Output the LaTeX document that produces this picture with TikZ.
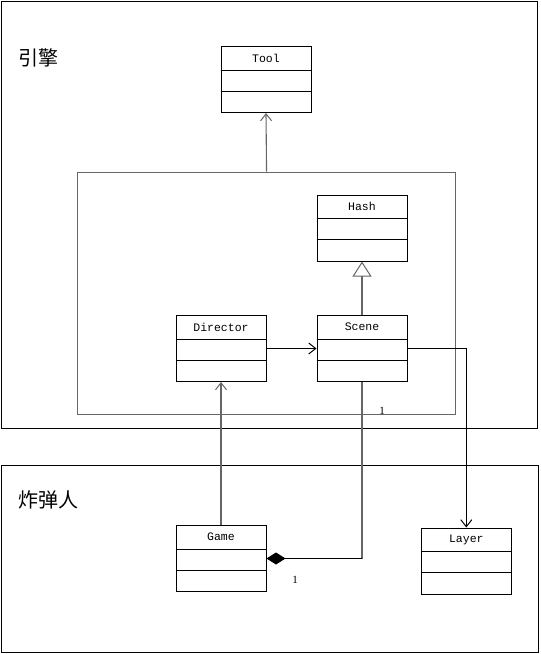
\documentclass[tikz,border=0pt]{standalone}
\usepackage{fontspec}
\setmainfont{Liberation Serif}
\newfontfamily\cjk{Noto Sans CJK SC}
\newfontfamily\umlmono{Liberation Mono}
\usetikzlibrary{arrows.meta,calc}
\tikzset{
  pkg/.style={draw=black, line width=1pt},
  inner/.style={draw=black!60, line width=1.1pt},
  classbox/.style={draw=black, line width=1pt, minimum width=90pt, minimum height=66pt, inner sep=0pt, fill=white},
  cname/.style={font=\umlmono\fontsize{11.5}{13}\selectfont, inner sep=0pt},
  conn/.style={line width=1pt, draw=black},
  gconn/.style={line width=1.1pt, draw=black!60},
  openarrow/.style={-{Straight Barb[length=7pt,width=11pt,line width=1pt]}},
  inherit/.style={-{Triangle[open,length=15pt,width=19pt,line width=1pt]}},
  compose/.style={-{Diamond[length=19pt,width=12pt]}},
  mult/.style={font=\fontsize{11}{13}\selectfont, inner sep=0pt},
  title/.style={font=\cjk\fontsize{20}{24}\selectfont, inner sep=0pt, anchor=west}
}
\newcommand{\umlclass}[4]{% name, cx, top y, label
  \node[classbox, anchor=north] (#1) at (#2,#3) {};
  \node[cname] (#1-label) at ($(#1.north)+(0,12)$) {#4};
  \draw[line width=1pt] ($(#1.north west)+(0,24)$) -- ($(#1.north east)+(0,24)$);
  \draw[line width=1pt] ($(#1.north west)+(0,45)$) -- ($(#1.north east)+(0,45)$);
}
\begin{document}
\begin{tikzpicture}[x=1pt,y=-1pt]
\useasboundingbox (0,0) rectangle (541,654);
% packages
\draw[pkg] (1.5,1.5) rectangle (537.5,428.5);
\draw[pkg] (1.5,465.5) rectangle (538.5,652.5);
\node[title] (engine) at (18,58) {引擎};
\node[title] (bomber) at (18,500) {炸弹人};
% inner box
\node[inner, minimum width=378pt, minimum height=242pt, inner sep=0pt, anchor=north west] (core) at (77,171.5) {};
% classes
\umlclass{tool}{266}{46}{Tool}
\umlclass{hash}{362}{194.5}{Hash}
\umlclass{scene}{362}{315}{Scene}
\umlclass{director}{221}{315}{Director}
\umlclass{game}{221}{525}{Game}
\umlclass{layer}{466.3}{527.5}{Layer}
% connectors
\draw[gconn, openarrow] (core.north) -- (tool.south);
\draw[gconn, inherit] (scene.north) -- (hash.south);
\draw[conn, openarrow] (director.east) -- (scene.west);
\draw[gconn, openarrow] (game.north) -- (director.south);
\draw[conn, openarrow] (scene.east) -| (layer.north);
\coordinate (bend) at (scene.south |- game.east);
\draw[gconn] (scene.south) -- (bend);
\draw[conn, compose] (bend) -- (game.east);
\node[mult] (m1) at (382,411) {1};
\node[mult] (m2) at (295,580) {1};
\end{tikzpicture}
\end{document}
